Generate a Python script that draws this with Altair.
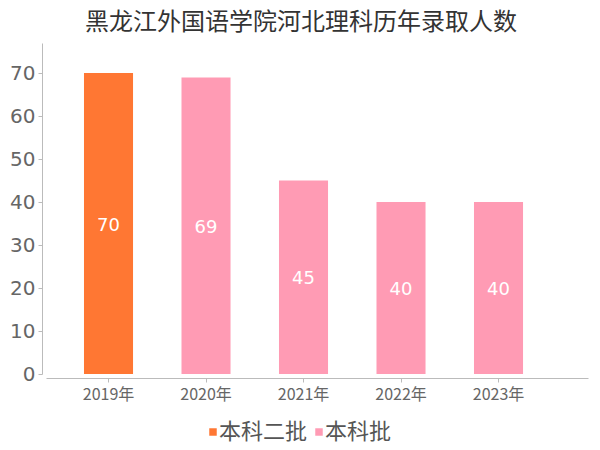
import altair as alt
import pandas as pd

years = ["2019年", "2020年", "2021年", "2022年", "2023年"]
counts = [70, 69, 45, 40, 40]
batches = ["本科二批", "本科批", "本科批", "本科批", "本科批"]
batch_order = ["本科二批", "本科批"]
batch_colors = ["#FF7733", "#FF9BB4"]

df = pd.DataFrame({"year": years, "count": counts, "batch": batches})

FONT = "Noto Sans CJK SC"
NUM_FONT = "DejaVu Sans"

x_enc = alt.X(
    "year:N",
    sort=years,
    scale=alt.Scale(paddingInner=0.497, paddingOuter=0.528, align=0.369),
    axis=alt.Axis(
        title=None, labelAngle=0, labelFontSize=16, labelColor="#666",
        domainColor="#bbb", tickColor="#bbb", tickSize=4, offset=4,
        labelPadding=4, labelFont=FONT,
    ),
)
y_scale = alt.Scale(domain=[0, 77], nice=False)

bars = alt.Chart(df).mark_bar().encode(
    x=x_enc,
    y=alt.Y(
        "count:Q",
        scale=y_scale,
        axis=alt.Axis(
            title=None, values=[0, 10, 20, 30, 40, 50, 60, 70], grid=False,
            labelFontSize=20, labelColor="#666", domainColor="#bbb",
            tickColor="#bbb", tickSize=4, offset=4, labelPadding=3,
            labelFont=NUM_FONT,
        ),
    ),
    color=alt.Color(
        "batch:N",
        scale=alt.Scale(domain=batch_order, range=batch_colors),
        legend=alt.Legend(
            title=None, orient="none", legendX=156, legendY=378,
            direction="horizontal", symbolType="square", symbolSize=56,
            labelFontSize=22, labelColor="#555", columnPadding=0,
            labelOffset={"expr": "-5"}, labelFont=FONT,
        ),
    ),
)

labels = alt.Chart(df).transform_calculate(
    mid="datum.count / 2"
).mark_text(color="white", fontSize=18, font=NUM_FONT, baseline="middle", dy=2).encode(
    x=alt.X("year:N", sort=years),
    y=alt.Y("mid:Q", scale=y_scale, title=None),
    text="count:Q",
)

chart = alt.layer(bars, labels).properties(
    width=542,
    height=331,
    autosize=alt.AutoSizeParams(type="none"),
    padding={"left": 38, "top": 35, "right": 4, "bottom": 90},
    title=alt.TitleParams(
        "黑龙江外国语学院河北理科历年录取人数", fontSize=24, color="#333",
        font=FONT, fontWeight="normal", anchor="middle", dx=-16, offset=8,
    ),
).configure(font=FONT).configure_view(stroke=None, strokeWidth=0)

chart.save("out.html", embed_options={"renderer": "svg", "actions": False})
